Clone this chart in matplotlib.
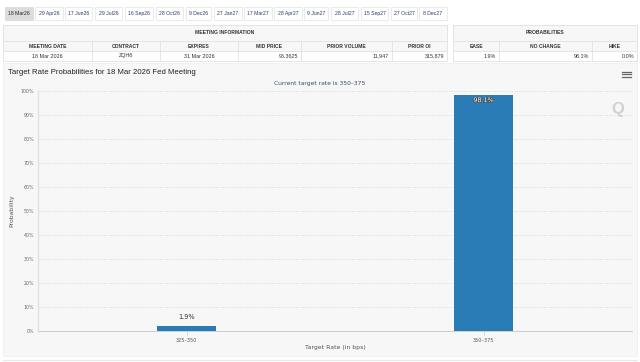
import matplotlib.pyplot as plt
import matplotlib.patheffects as pe
from matplotlib.patches import Rectangle

# data
meetings = ["18 Mar26", "29 Apr26", "17 Jun26", "29 Jul26", "16 Sep26", "28 Oct26",
            "9 Dec26", "27 Jan27", "17 Mar27", "28 Apr27", "9 Jun27", "28 Jul27",
            "15 Sep27", "27 Oct27", "8 Dec27"]
info_cols = ["MEETING DATE", "CONTRACT", "EXPIRES", "MID PRICE", "PRIOR VOLUME", "PRIOR OI"]
info_vals = ["18 Mar 2026", "ZQH6", "31 Mar 2026", "96.3625", "11,947", "315,879"]
prob_cols = ["EASE", "NO CHANGE", "HIKE"]
prob_vals = ["1.9%", "98.1%", "0.0%"]
rates = ["325\u2013350", "350\u2013375"]
probs = [1.9, 98.1]

W, H = 640, 362
fig = plt.figure(figsize=(6.4, 3.62), dpi=100)
fig.patch.set_facecolor("white")


def fx(x):
    return x / W


def fy(y):
    return 1 - y / H


def box(x0, y0, x1, y1, fc="none", ec="#e3e3e3", lw=0.6):
    fig.patches.append(Rectangle((fx(x0), fy(y1)), fx(x1) - fx(x0), fy(y0) - fy(y1),
                                 transform=fig.transFigure, fc=fc, ec=ec, lw=lw,
                                 zorder=-5))


def txt(x, y, s, ha="center", **kw):
    kw.setdefault("fontsize", 3.8)
    kw.setdefault("color", "#333333")
    kw.setdefault("family", ["Liberation Sans", "DejaVu Sans"])
    fig.text(fx(x), fy(y), s, ha=ha, va="center", **kw)


# tab strip
tab_x = [(5, 33), (35, 63), (65, 92), (95, 122), (125, 153), (156, 183), (186, 211),
         (214, 242), (244, 272), (274, 302), (304, 328), (331, 358), (361, 388),
         (391, 417), (419, 447)]
for i, (name, (a, b)) in enumerate(zip(meetings, tab_x)):
    box(a, 7, b, 20, fc="#dcdcdc" if i == 0 else "white",
        ec="#dcdcdc" if i == 0 else "#e6e6e6")
    txt((a + b) / 2, 13.5, name, fontsize=3.7, color="#222222" if i == 0 else "#2b3e66")

# meeting information table
edges = [3, 92, 160, 238, 301, 392, 447]
box(3, 25, 447, 61, fc="white", ec="#e3e3e3")
box(3, 25, 447, 41, fc="#f7f7f7", ec="#e3e3e3")
txt(225, 33, "MEETING INFORMATION", fontsize=3.6, weight="bold")
for i, (c, v) in enumerate(zip(info_cols, info_vals)):
    a, b = edges[i], edges[i + 1]
    box(a, 41, b, 51, fc="#f7f7f7")
    box(a, 51, b, 61, fc="white")
    txt((a + b) / 2, 46, c, fontsize=3.6, weight="bold")
    if i < 3:
        txt((a + b) / 2, 56, v, fontsize=3.9)
    else:
        txt(b - 3, 56, v, ha="right", fontsize=3.9)

# probabilities table
edges2 = [453, 499, 592, 637]
box(453, 25, 637, 61, fc="white")
box(453, 25, 637, 41, fc="#f7f7f7")
txt(545, 33, "PROBABILITIES", fontsize=3.6, weight="bold")
for i, (c, v) in enumerate(zip(prob_cols, prob_vals)):
    a, b = edges2[i], edges2[i + 1]
    box(a, 41, b, 51, fc="#f7f7f7")
    box(a, 51, b, 61, fc="white")
    txt((a + b) / 2, 46, c, fontsize=3.6, weight="bold")
    txt(b - 3, 56, v, ha="right", fontsize=3.9)

# chart panel
box(3, 63, 637, 356, fc="#f7f7f7", ec="#f0f0f0")
fig.add_artist(plt.Line2D([fx(3), fx(637)], [fy(360), fy(360)], color="#e8e8e8", lw=0.8))
txt(7.5, 72, "Target Rate Probabilities for 18 Mar 2026 Fed Meeting", ha="left",
    fontsize=5.6, color="#222222")
for yy in (71.5, 74, 76.5):
    fig.add_artist(plt.Line2D([fx(622), fx(631)], [fy(yy), fy(yy)], color="#666666", lw=0.9))
txt(320, 83.5, "Current target rate is 350\u2013375", fontsize=4.3, color="#3b4a72",
    family=["DejaVu Sans"])
txt(618, 109, "Q", fontsize=12, color="#d2d2d2", weight="bold")

ax = fig.add_axes([fx(38), fy(330.7), fx(632) - fx(38), fy(90.7) - fy(330.7)])
ax.set_facecolor("none")
ax.set_zorder(2)
xs = range(len(rates))
bars = ax.bar(xs, probs, width=0.2, color="#2a7cb7", zorder=3)
ax.set_xlim(-0.5, 1.5)
ax.set_ylim(0, 100)
ax.set_yticks(range(0, 101, 10))
ax.set_yticklabels([f"{v}%" for v in range(0, 101, 10)], fontsize=3.4, color="#666666")
ax.set_xticks(list(xs))
ax.set_xticklabels(rates, fontsize=3.6, color="#555555")
ax.tick_params(axis="y", length=0, pad=3)
ax.tick_params(axis="x", length=3, width=0.5, color="#cccccc", pad=2)
ax.grid(axis="y", linestyle=(0, (1, 2.5)), color="#bbbbbb", lw=0.5, zorder=0)
for s in ("top", "right"):
    ax.spines[s].set_visible(False)
ax.spines["left"].set_color("#e0e0e0")
ax.spines["left"].set_linewidth(1.0)
ax.spines["bottom"].set_color("#c8c8c8")
ax.spines["bottom"].set_linewidth(0.6)
ax.set_xlabel("Target Rate (in bps)", fontsize=4.4, color="#555555", labelpad=2)
ax.set_ylabel("Probability", fontsize=4.4, color="#555555", labelpad=4)

ax.text(xs[0], probs[0] + 2.5, f"{probs[0]}%", ha="center", va="bottom",
        fontsize=4.8, color="#333333")
ax.text(xs[1], probs[1] - 1.2, f"{probs[1]}%", ha="center", va="top", fontsize=4.6,
        color="white", path_effects=[pe.withStroke(linewidth=0.8, foreground="#444444")])

fig.savefig("out.png", dpi=100)
